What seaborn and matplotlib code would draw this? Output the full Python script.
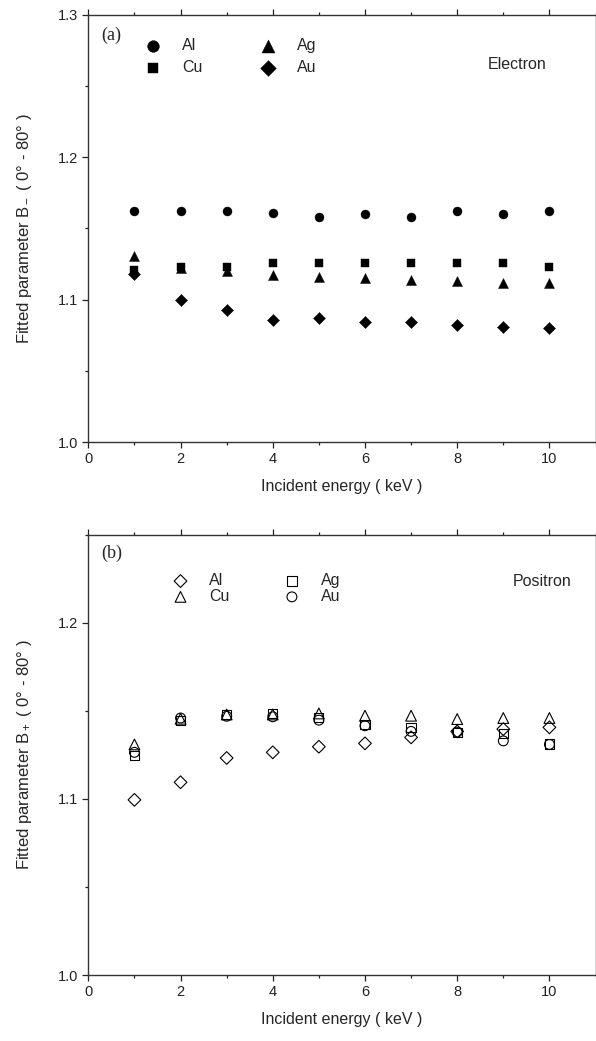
import numpy as np
import pandas as pd
import matplotlib
matplotlib.use("Agg")
import matplotlib.pyplot as plt
from matplotlib.ticker import MultipleLocator, FormatStrFormatter
import seaborn as sns

# Datos
energia = [1, 2, 3, 4, 5, 6, 7, 8, 9, 10]
metales = ["Al", "Cu", "Ag", "Au"]

# (a) Electron
e_al = [1.162, 1.162, 1.162, 1.161, 1.158, 1.160, 1.158, 1.162, 1.160, 1.162]
e_cu = [1.121, 1.123, 1.123, 1.126, 1.126, 1.126, 1.126, 1.126, 1.126, 1.123]
e_ag = [1.131, 1.122, 1.120, 1.117, 1.116, 1.1155, 1.114, 1.113, 1.112, 1.1115]
e_au = [1.118, 1.100, 1.093, 1.086, 1.087, 1.0845, 1.084, 1.082, 1.081, 1.080]

# (b) Positron
p_al = [1.0995, 1.1095, 1.1233, 1.1265, 1.1297, 1.1316, 1.135, 1.1384, 1.1397, 1.1407]
p_cu = [1.131, 1.1456, 1.148, 1.148, 1.1486, 1.1473, 1.1473, 1.1454, 1.146, 1.146]
p_ag = [1.1246, 1.1445, 1.148, 1.1486, 1.1463, 1.1425, 1.1407, 1.1379, 1.137, 1.1313]
p_au = [1.1265, 1.146, 1.147, 1.1467, 1.1448, 1.1416, 1.1384, 1.138, 1.133, 1.131]

sns.set_style("ticks")
plt.rcParams["font.family"] = ["Liberation Sans", "DejaVu Sans"]
plt.rcParams["mathtext.fontset"] = "custom"
plt.rcParams["mathtext.rm"] = "Liberation Sans"
plt.rcParams["mathtext.it"] = "Liberation Sans:italic"
plt.rcParams["axes.edgecolor"] = "#333333"
plt.rcParams["axes.linewidth"] = 1.0

fig = plt.figure(figsize=(5.96, 10.41), dpi=100)
ax1 = fig.add_axes([0.1482, 0.5754, 0.8510, 0.4102])
ax2 = fig.add_axes([0.1482, 0.0634, 0.8510, 0.4227])


def dibujar(ax, series, marcadores, tamanos, relleno):
    for nombre, valores in series.items():
        df = pd.DataFrame({"E": energia, "B": valores})
        if relleno:
            sns.scatterplot(data=df, x="E", y="B", ax=ax, marker=marcadores[nombre],
                            s=tamanos[nombre], color="black", edgecolor="black",
                            linewidth=0.3, label=nombre)
        else:
            sns.scatterplot(data=df, x="E", y="B", ax=ax, marker=marcadores[nombre],
                            s=tamanos[nombre], facecolors="none", edgecolor="black",
                            linewidth=0.8, label=nombre)


def formato(ax, ymax, ylab):
    ax.set_xlim(0, 11)
    ax.set_ylim(1.0, ymax)
    ax.xaxis.set_major_locator(MultipleLocator(2))
    ax.xaxis.set_minor_locator(MultipleLocator(1))
    ax.yaxis.set_major_locator(MultipleLocator(0.1))
    ax.yaxis.set_minor_locator(MultipleLocator(0.05))
    ax.yaxis.set_major_formatter(FormatStrFormatter("%.1f"))
    ax.tick_params(which="both", direction="out", top=True, right=True,
                   labelsize=10.5, colors="#222222", width=0.9)
    ax.tick_params(which="major", length=4.5, pad=3)
    ax.tick_params(which="minor", length=2.5)
    ax.set_xlabel("Incident energy ( keV )", fontsize=11.5, labelpad=9)
    ax.set_ylabel(ylab, fontsize=12)
    ax.yaxis.set_label_coords(-0.108, 0.5)
    for s in ax.spines.values():
        s.set_visible(True)


# Panel (a)
dibujar(ax1, {"Al": e_al, "Cu": e_cu, "Ag": e_ag, "Au": e_au},
        {"Al": "o", "Cu": "s", "Ag": "^", "Au": "D"},
        {"Al": 42, "Cu": 36, "Ag": 52, "Au": 38}, True)
formato(ax1, 1.3, "Fitted parameter B$_-$ ( 0\u00b0 - 80\u00b0 )")
ax1.legend(ncol=2, frameon=False, loc="upper left", bbox_to_anchor=(0.112, 0.945),
           borderaxespad=0, borderpad=0, fontsize=11.5, handlelength=1.0,
           handletextpad=1.3, columnspacing=3.6, labelspacing=0.4,
           markerscale=1.3)
ax1.text(0.045, 0.953, "(a)", transform=ax1.transAxes, ha="center", va="center",
         fontsize=13, family=["Liberation Serif", "DejaVu Serif"])
ax1.text(0.845, 0.883, "Electron", transform=ax1.transAxes, ha="center",
         va="center", fontsize=11.5)

# Panel (b)
dibujar(ax2, {"Al": p_al, "Cu": p_cu, "Ag": p_ag, "Au": p_au},
        {"Al": "D", "Cu": "^", "Ag": "s", "Au": "o"},
        {"Al": 42, "Cu": 60, "Ag": 44, "Au": 50}, False)
formato(ax2, 1.25, "Fitted parameter B$_+$ ( 0\u00b0 - 80\u00b0 )")
ax2.legend(ncol=2, frameon=False, loc="upper left", bbox_to_anchor=(0.166, 0.913),
           borderaxespad=0, borderpad=0, fontsize=11.5, handlelength=1.0,
           handletextpad=1.3, columnspacing=3.4, labelspacing=0.05)
ax2.text(0.047, 0.959, "(b)", transform=ax2.transAxes, ha="center", va="center",
         fontsize=13, family=["Liberation Serif", "DejaVu Serif"])
ax2.text(0.894, 0.895, "Positron", transform=ax2.transAxes, ha="center",
         va="center", fontsize=11.5)

fig.savefig("out.png", dpi=100)
